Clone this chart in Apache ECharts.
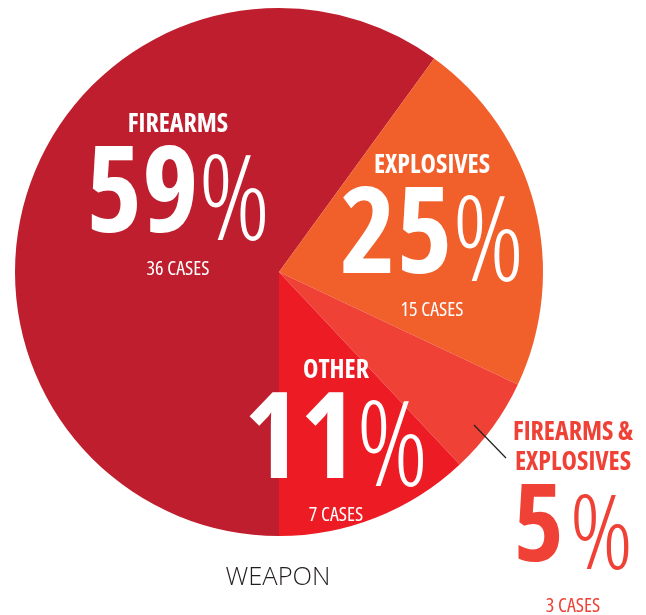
<!DOCTYPE html>
<html>
<head>
<meta charset="utf-8">
<style>
  html, body { margin: 0; padding: 0; background: #fff; }
  #chart { width: 646px; height: 615px; }
</style>
<script src="https://cdn.jsdelivr.net/npm/echarts@6/dist/echarts.min.js"></script>
</head>
<body>
<div id="chart"></div>
<script>
// 分类和数值
var names = ['FIREARMS', 'EXPLOSIVES', 'FIREARMS &\nEXPLOSIVES', 'OTHER'];
var percents = [59, 25, 5, 11];
var cases = [36, 15, 3, 7];
// 扇区大小(按图上角度读取)
var shares = [60, 22, 6, 12];
var colors = ['#be1e2d', '#f15f2a', '#ef4136', '#ed1c24'];

// 标签位置 [x中心, y顶部]
var labelPos = [[178, 110], [432, 151], [573, 418], [336, 356]];

var pieCenter = [279, 272],
    pieRadius = 264,
    startAngle = -90;

// 字体: Open Sans 压缩宽度 (字重里带上 condensed)
var font = '"Open Sans", sans-serif';

var myChart = echarts.init(document.getElementById('chart'));

var data = names.map(function (n, i) {
    var item = {
        name: n,
        value: shares[i],
        itemStyle: { color: colors[i] }
    };
    if (i === 2) {
        item.label = { position: 'outside', color: colors[2] };
    }
    return item;
});

function richStyles(color, small) {
    return {
        name: { fontFamily: font, fontWeight: 'bold condensed', fontSize: 26, lineHeight: 30, color: color },
        num: { fontFamily: font, fontWeight: 'bold condensed', fontSize: small ? 108 : 120, lineHeight: small ? 104 : 116, color: color },
        pct: {
            fontFamily: font, fontWeight: '300 condensed', fontSize: small ? 104 : 118,
            lineHeight: small ? 104 : 116, padding: small ? [18, 0, 0, 6] : [16, 0, 0, 0], color: color
        },
        cases: { fontFamily: font, fontWeight: 'normal condensed', fontSize: 20, lineHeight: small ? 48 : 26, color: color }
    };
}

// 引线: 在 FIREARMS & EXPLOSIVES 扇区外沿处斜穿
var total = shares.reduce(function (a, b) { return a + b; }, 0);
var before = shares[0] + shares[1];
var midDeg = startAngle - (before + shares[2] / 2) / total * 360;
var rad = midDeg * Math.PI / 180;
var edge = [pieCenter[0] + pieRadius * Math.cos(rad), pieCenter[1] - pieRadius * Math.sin(rad)];
var leader = [
    [edge[0] - 18.6, edge[1] - 2.2],
    [edge[0] + 13.4, edge[1] + 30.8]
];

var option = {
    title: {
        text: 'WEAPON',
        left: 278,
        textAlign: 'center',
        top: 563,
        padding: 0,
        textStyle: {
            fontFamily: font,
            fontWeight: 300,
            fontSize: 25.5,
            lineHeight: 30,
            color: '#231f20'
        }
    },
    graphic: [{
        type: 'polyline',
        z: 100,
        shape: { points: leader },
        style: { stroke: '#231f20', lineWidth: 1.2, fill: null }
    }],
    series: [{
        type: 'pie',
        center: pieCenter,
        radius: pieRadius,
        startAngle: startAngle,
        clockwise: true,
        animation: false,
        avoidLabelOverlap: false,
        label: {
            show: true,
            position: 'inside',
            color: '#fff',
            formatter: function (p) {
                var i = p.dataIndex;
                var nm = names[i].split('\n').map(function (s) {
                    return '{name|' + s + '}';
                }).join('\n');
                return nm + '\n{num|' + percents[i] + '}{pct|%}\n{cases|' + cases[i] + ' CASES}';
            },
            rich: richStyles('#fff', false)
        },
        labelLine: { show: false },
        labelLayout: function (params) {
            var i = params.dataIndex;
            return {
                x: labelPos[i][0],
                y: labelPos[i][1],
                align: 'center',
                verticalAlign: 'top'
            };
        },
        data: data
    }]
};

// F&E 标签用红色和小字号
option.series[0].data[2].label.rich = richStyles(colors[2], true);

myChart.setOption(option);
</script>
</body>
</html>
